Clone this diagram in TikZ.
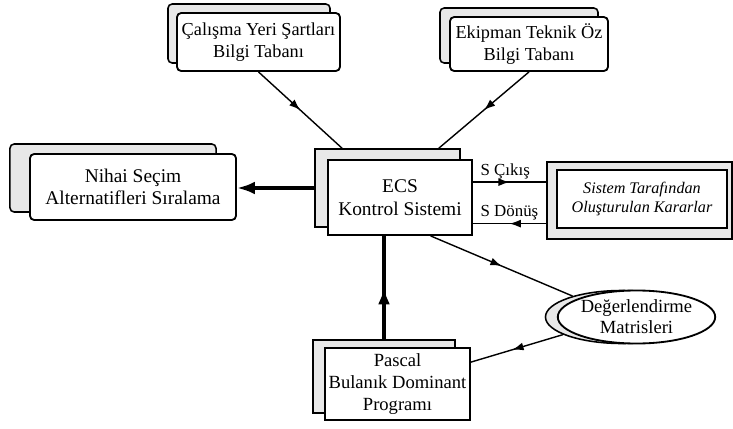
\documentclass[tikz,border=0pt]{standalone}
\usepackage{fontspec}
\setmainfont{Liberation Serif}
\usepackage{tikz}
\usetikzlibrary{arrows.meta,calc,shapes.geometric,decorations.markings}

\begin{document}
\begin{tikzpicture}[
  x=0.025cm, y=-0.025cm,
  >=Latex,
  font=\fontsize{13.8}{16}\selectfont,
  backbox/.style={draw=black, line width=1.1pt, fill=gray!18, inner sep=0pt},
  frontbox/.style={draw=black, line width=1.3pt, fill=white, align=center, inner sep=1pt},
  rbox/.style={rounded corners=3pt},
  conn/.style={draw=black, line width=1pt},
  thickconn/.style={draw=black, line width=2.4pt},
  midarrow/.style={postaction={decorate}, decoration={markings,
    mark=at position #1 with {\arrow{Latex[length=2.8mm,width=2mm]}}}},
  midarrow/.default=0.5,
  bigarrow/.style={postaction={decorate}, decoration={markings,
    mark=at position 0.5 with {\arrow{Latex[length=4.2mm,width=3mm]}}}},
  lbl/.style={font=\fontsize{12}{14}\selectfont, inner sep=1pt}
]
\useasboundingbox (0,0) rectangle (733,429);

% ==================== BACK (shadow) BOXES ====================
\node[backbox, rbox, minimum width=4.05cm, minimum height=1.475cm] (calismaback) at (249,33.5) {};
\node[backbox, rbox, minimum width=3.95cm, minimum height=1.375cm] (ekipmanback) at (519,35.5) {};
\node[backbox, rbox, minimum width=5.15cm, minimum height=1.7cm] (nihaiback) at (113,178) {};
\node[backbox, minimum width=3.625cm, minimum height=1.95cm] (ecsback) at (387.5,188) {};
\node[backbox, minimum width=4.625cm, minimum height=1.925cm] (sistemback) at (639.5,200.5) {};
\node[backbox, minimum width=3.55cm, minimum height=1.825cm] (pascalback) at (384,376.5) {};
\node[backbox, ellipse, minimum width=3.825cm, minimum height=1.325cm] (ellback) at (622,317) {};

% ==================== FRONT BOXES ====================
\node[frontbox, rbox, minimum width=4.075cm, minimum height=1.45cm,
  font=\fontsize{13}{15.5}\selectfont] (calisma) at (258.5,42)
  {Çalışma Yeri Şartları\\Bilgi Tabanı};
\node[frontbox, rbox, minimum width=3.95cm, minimum height=1.35cm,
  font=\fontsize{13}{15.5}\selectfont] (ekipman) at (529,44)
  {Ekipman Teknik Öz\\Bilgi Tabanı};
\node[frontbox, rbox, minimum width=5.15cm, minimum height=1.65cm] (nihai) at (133,187)
  {Nihai Seçim\\Alternatifleri Sıralama};
\node[frontbox, minimum width=3.6cm, minimum height=1.875cm] (ecs) at (400,197.5)
  {ECS\\Kontrol Sistemi};
\node[frontbox, minimum width=4.25cm, minimum height=1.45cm,
  font=\fontsize{11.5}{13.5}\selectfont\itshape] (sistem) at (642,199)
  {Sistem Tarafından\\Oluşturulan Kararlar};
\node[frontbox, minimum width=3.625cm, minimum height=1.8cm,
  font=\fontsize{13.2}{15.5}\selectfont] (pascal) at (397.5,384)
  {Pascal\\Bulanık Dominant\\Programı};
\node[frontbox, ellipse, inner sep=0pt, minimum width=3.825cm, minimum height=1.325cm,
  font=\fontsize{13.2}{15}\selectfont] (ell) at (636.5,317)
  {Değerlendirme\\Matrisleri};

% ==================== CONNECTORS ====================
% knowledge bases into ECS
\draw[conn, midarrow] (calisma.south) -- ($(ecsback.north west)!0.19!(ecsback.north east)$);
\draw[conn, midarrow] (ekipman.south) -- ($(ecsback.north west)!0.85!(ecsback.north east)$);

% ECS to ranking
\draw[thickconn, -{Latex[length=4.5mm,width=3.2mm]}] (ecsback.west) -- (ecsback.west -| nihai.east);

% ECS <-> decisions
\coordinate (cikis) at ($(ecs.north east)!0.3!(ecs.south east)$);
\coordinate (donus) at ($(ecs.north east)!0.84!(ecs.south east)$);
\draw[conn, midarrow] (cikis) -- (cikis -| sistemback.west);
\draw[conn, midarrow] (donus -| sistemback.west) -- (donus);
\node[lbl, anchor=south west] (cikislbl) at ([xshift=1.5mm, yshift=1pt]cikis) {S Çıkış};
\node[lbl, anchor=south west] (donuslbl) at ([xshift=1.5mm, yshift=1pt]donus) {S Dönüş};

% Pascal program into ECS
\draw[thickconn, bigarrow] (pascalback.north) -- (pascalback.north |- ecs.south);

% ECS -> matrices -> Pascal
\coordinate (ecsout) at ($(ecs.south west)!0.71!(ecs.south east)$);
\draw[conn, midarrow] (ecsout) -- (ellback);
\draw[conn, midarrow=0.55] (ellback) -- (pascal);

\end{tikzpicture}
\end{document}
